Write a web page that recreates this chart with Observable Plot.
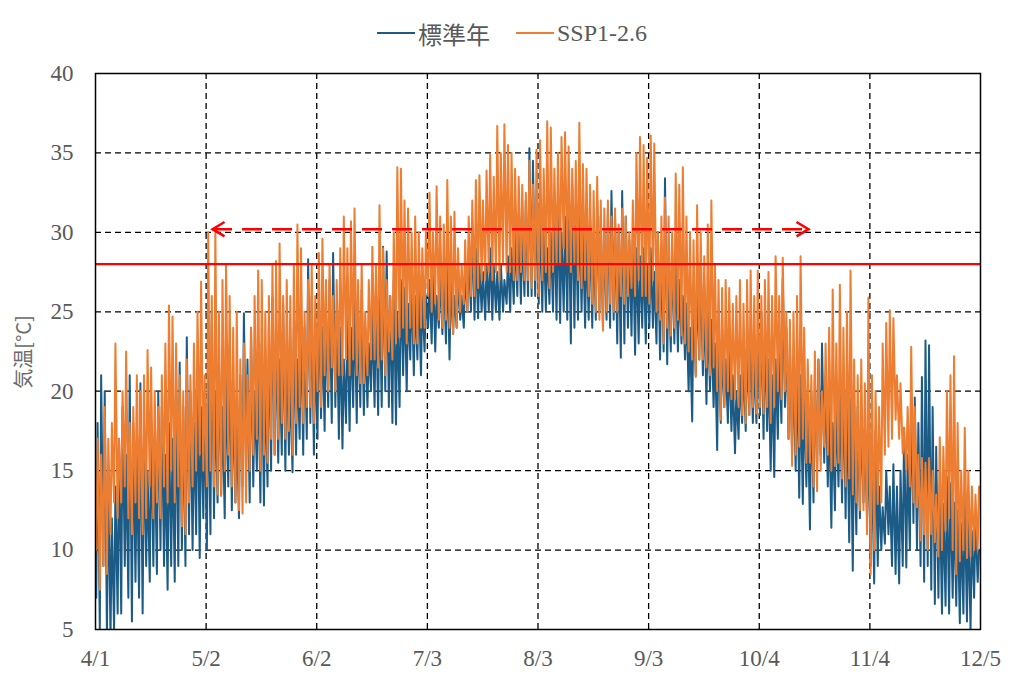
<!DOCTYPE html>
<html>
<head>
<meta charset="utf-8">
<script src="https://cdn.jsdelivr.net/npm/d3@7"></script>
<script src="https://cdn.jsdelivr.net/npm/@observablehq/plot@0.6"></script>
<style>
  body { margin: 0; background: #fff; }
  #wrap { position: relative; width: 1024px; height: 685px; background: #fff; }
  #legend { height: 55px; box-sizing: border-box; padding-top: 11px; display: flex; justify-content: center; align-items: center;
            font-family: 'Liberation Serif', 'Noto Sans CJK JP', serif; font-size: 24px; color: #595959; }
  .item { display: flex; align-items: center; }
  .item svg { margin-right: 3px; }
  #ylabel { position: absolute; left: 22px; top: 352px; transform: translate(-50%, -50%) rotate(-90deg);
            font-family: 'Noto Sans CJK JP', sans-serif; font-size: 20px; color: #6a6a6a; white-space: nowrap; }
</style>
</head>
<body>
<div id="wrap">
  <div id="legend"></div>
  <div id="chart"></div>
  <div id="ylabel"></div>
</div>
<script>
// ---------- labels ----------
const seriesNames = ["標準年", "SSP1-2.6"];
const seriesColors = ["#1b5b85", "#ed7d31"];
const yTitle = "気温[°C]";
const xTickLabels = ["4/1", "5/2", "6/2", "7/3", "8/3", "9/3", "10/4", "11/4", "12/5"];
const yTicks = [5, 10, 15, 20, 25, 30, 35, 40];
const threshold = 28;          // red solid line
const arrowLevel = 30.2;       // red dashed double arrow
const arrowSpan = [32.8, 199.8]; // days since 4/1
const minHour = 5, maxHour = 14;

// ---------- daily values (days since 4/1) ----------
const stdMax = [
  18, 21, 20, 15, 12, 14, 17, 19, 16, 21,
  18, 16, 20.5, 17, 15, 18, 17, 20, 19, 16,
  18, 17, 20, 21.8, 19, 23.4, 20, 18, 21, 19,
  19, 21, 25, 20, 22, 19, 21, 23, 20, 18,
  21, 24.9, 22, 24, 20, 22, 23, 21, 24, 25.9,
  24, 22, 25.5, 23, 21, 24, 22, 25, 24, 28.3,
  26, 23, 26, 24, 25, 27, 28.7, 25, 24, 22,
  25, 24, 26, 25, 26.4, 24, 23, 25, 26, 27,
  29.1, 28.8, 26, 27, 25, 27, 26.5, 25.5, 27, 26,
  27, 26, 26, 27, 28, 26, 27.5, 28, 28.5, 27,
  26, 27, 26, 27.5, 29, 30.3, 29, 28, 27.5, 28,
  29, 28, 27.5, 28, 27, 28.5, 29, 30, 31.2, 30,
  32, 35.3, 34.5, 32, 31, 30, 29, 30, 31, 32,
  30, 31, 32.5, 33, 31, 32, 30, 29.5, 31, 30,
  32, 31, 30, 31.5, 32.6, 31, 30, 32.6, 31, 29.5,
  30, 29, 28.5, 29, 28, 29, 27.5, 30, 29, 33.4,
  28, 29, 28.5, 27, 26, 25.5, 24, 26, 27, 28.1,
  26, 25, 24.5, 23, 24, 22.5, 22, 22.5, 21, 20,
  21, 22, 23, 24, 22, 23, 25, 24, 22, 21,
  22, 23, 27.1, 24, 23, 21.5, 22, 21, 20, 19.5,
  20, 21, 22, 23, 21, 19, 18, 19.5, 20, 21,
  20, 19.5, 18, 19, 18.5, 17, 17.5, 16, 17.5, 14,
  12.7, 15, 14, 15.4, 14, 15, 17.7, 16, 19.8, 19.6,
  18, 20.9, 23.2, 22.9, 19, 16.5, 14, 12.9, 14.6, 14.2,
  13, 12.5, 11.7, 13.5, 12, 11.2, 12, 10
];
const stdMin = [
  7, 5, 9, 4.5, 4.5, 5, 6, 6, 9, 7,
  5.5, 8, 7, 6, 9, 8, 9, 8.5, 10, 9,
  7.5, 9, 8, 9, 10, 9, 11, 10, 11, 9.5,
  12, 10, 11, 12, 13, 13.5, 12, 14, 12.5, 13,
  12, 14, 15, 13, 14, 15, 13, 12.8, 14, 15,
  16, 15.5, 16, 15, 16, 14.9, 16, 17, 16, 17,
  18, 16, 17, 18.3, 17.5, 19, 18, 19, 17, 16.4,
  18, 17.5, 19, 18, 19, 18.5, 19, 20, 19, 18.5,
  19, 20, 19, 18, 17.9, 19, 21, 20, 22, 21,
  22, 21, 22.5, 24, 23, 22.5, 24, 23.6, 23, 22,
  23.6, 24, 24.5, 24, 25, 25, 24.5, 24.6, 25, 24.5,
  25, 24.5, 25, 24.5, 25, 25.5, 25, 25.5, 26, 25.5,
  26, 26, 26, 26, 25.5, 25, 25.1, 25.5, 25, 24.5,
  24.3, 25, 24.5, 23, 24, 24.5, 25, 24, 24.5, 24,
  24.5, 25, 24, 24.5, 24, 24.5, 23, 22.1, 23, 24,
  23.5, 22.3, 23, 24, 23, 24, 24, 23, 22, 22.5,
  21.7, 22.5, 23, 22.5, 23, 22, 20, 18.1, 21, 22,
  21, 19.2, 20, 19, 16.3, 18, 19, 18, 17.5, 16.1,
  17, 18, 17.5, 18.5, 18, 18, 18.5, 17, 17.5, 15,
  14.6, 17, 18, 19, 17, 16, 15, 13.3, 12.9, 14,
  11.3, 13, 15, 16, 15.5, 14, 11.4, 12.5, 14, 13,
  12, 10.5, 8.7, 11, 12, 13, 12, 9, 7.9, 9,
  10, 10.4, 11, 9, 8.5, 7.9, 9, 8.9, 10, 11.7,
  10, 9, 8, 9, 7.5, 6.6, 7, 6, 6.5, 6,
  7, 6.5, 5.4, 6, 5.5, 5, 7, 8
];
const sspMax = [
  17, 16, 19, 17, 18, 23, 17, 20, 22.5, 18,
  19, 21, 20, 21, 22.6, 21.5, 20, 19, 21, 23,
  25.4, 24.7, 23, 21, 20, 22, 21, 23, 25, 26.9,
  21, 30, 26, 30.2, 25, 27, 28, 26, 24, 25,
  22, 23, 21, 24, 26, 27.6, 27, 25, 26, 28,
  28.2, 29.3, 26, 27, 26, 28, 30.5, 29, 25, 27,
  28, 26, 28.7, 29.6, 27, 28, 26, 27, 29, 31,
  29, 30.7, 31.5, 27, 28, 25, 27, 29.1, 28, 31.7,
  29, 27, 26, 30, 34.1, 34, 32, 31.5, 30, 31,
  30, 29, 30, 32.5, 30, 32.9, 31, 30.5, 33.3, 31,
  31.3, 29, 28, 29.5, 31, 32, 33.3, 33.6, 32, 33.9,
  34.9, 33.5, 36.7, 35, 36.8, 35.5, 35, 34, 33.5, 33,
  32.5, 34.5, 33, 35.2, 35.8, 34, 37, 36.6, 34, 35,
  36, 36.3, 35.4, 34, 34.5, 36.9, 34.3, 34, 33, 32.6,
  33.5, 32, 31.5, 32, 31, 31.5, 30.5, 31.5, 31, 30,
  32, 35, 36, 35.5, 34.7, 36.1, 35.6, 30, 31, 32.2,
  31, 30, 33.7, 33, 34.1, 31, 30, 29.5, 31.7, 30,
  28.5, 30.5, 32, 28, 27, 26.5, 27, 26.5, 25.5, 26,
  27, 25.5, 27, 27.6, 26, 27.6, 26, 27, 27.5, 26,
  28.5, 26, 28.4, 25, 24.5, 25, 26, 28.5, 24, 22,
  21, 22.5, 22, 20, 23, 24, 26.4, 23, 26.7, 24,
  25, 27.6, 22, 21, 22, 20.5, 25.9, 21, 20, 19,
  23, 24.3, 25.1, 24.6, 21, 20.5, 17.7, 19, 22.8, 19,
  16, 15.8, 15.5, 15.8, 15, 13.5, 17.1, 16.5, 20, 21,
  22.2, 18, 15, 17.7, 15, 14, 13.5, 14
];
const sspMin = [
  10, 7.5, 9, 8.5, 11, 13, 12, 13, 14, 12,
  11, 13, 12, 11, 12, 14, 12, 13, 12, 14,
  13, 15, 13, 14, 11.5, 11, 13, 14, 15, 16,
  15, 14, 15, 14, 13.5, 13.4, 15, 16, 14, 13,
  12.5, 12.3, 13, 15, 16, 17, 15, 16, 15.5, 17,
  16, 17, 18, 17, 17.5, 16, 18, 19, 18, 19,
  19, 18, 20, 19, 21, 20, 21.5, 20, 21, 21,
  22, 21, 22, 21, 20.5, 20.5, 21, 22, 22, 21.5,
  22, 21, 22.5, 22, 23, 23.4, 24, 23, 24, 23,
  23, 24, 24, 26, 25, 25.5, 24.5, 24, 24.5, 24,
  23.6, 24, 25, 25.5, 25, 26, 26, 26.5, 27, 27,
  27.5, 27, 27.5, 27, 28, 27.5, 27.5, 27, 27, 27.5,
  27, 27, 26.5, 27, 26, 27, 27.5, 26.5, 27.5, 28,
  28, 29, 28, 27.5, 28, 27, 26.5, 27, 26, 25.5,
  25, 24.5, 23.8, 25, 25.5, 25, 25, 26, 25.5, 26,
  26.5, 26, 27, 26, 26, 25.5, 27, 25, 24.5, 23,
  24, 23.5, 24, 24.5, 23.5, 23, 22.5, 22, 20.9, 22,
  22, 21.5, 21, 21.5, 20, 18.2, 19, 20, 19.5, 19.5,
  19, 18.5, 18, 18.5, 19, 18.6, 19, 18.6, 19, 18,
  19, 20, 19.5, 20, 17, 15.3, 16, 16.5, 17, 15.5,
  15.5, 14, 13.7, 15, 16.5, 16, 15, 15.3, 15.5, 14.5,
  14, 14.5, 13.5, 13, 12.5, 12.5, 11, 8.5, 10, 12.9,
  13, 16, 16.5, 17, 18.2, 17, 16.1, 15, 14, 13,
  12.7, 10.6, 11, 10, 11, 10.5, 9.6, 10, 11.2, 12,
  10, 8.5, 9.3, 10, 9.5, 9.6, 10, 10
];

// ---------- build tables ----------
const year = 2023;
const origin = new Date(year, 3, 1);
const toDay = (label) => { const [m, d] = label.split("/").map(Number); return Math.round((new Date(year, m - 1, d) - origin) / 864e5); };
const xTickPos = xTickLabels.map(toDay);
const labelByPos = new Map(xTickPos.map((p, i) => [p, xTickLabels[i]]));

function build(mins, maxs) {
  const pts = [];
  for (let d = 0; d < mins.length; d++) {
    pts.push({ t: d + minHour / 24, v: mins[d] });
    pts.push({ t: d + maxHour / 24, v: maxs[d] });
  }
  return pts;
}
const stdData = build(stdMin, stdMax);
const sspData = build(sspMin, sspMax);

const chevronLeft = { draw(ctx, size) { const r = Math.sqrt(size / Math.PI); ctx.moveTo(r * 2, -r * 1.2); ctx.lineTo(0, 0); ctx.lineTo(r * 2, r * 1.2); } };
const chevronRight = { draw(ctx, size) { const r = Math.sqrt(size / Math.PI); ctx.moveTo(-r * 2, -r * 1.2); ctx.lineTo(0, 0); ctx.lineTo(-r * 2, r * 1.2); } };

// ---------- legend ----------
const legend = document.getElementById("legend");
seriesNames.forEach((name, i) => {
  const item = document.createElement("div");
  item.className = "item";
  if (i > 0) item.style.marginLeft = "26px";
  item.innerHTML = `<svg width="38" height="10"><line x1="0" y1="5" x2="38" y2="5" stroke="${seriesColors[i]}" stroke-width="2"/></svg><span>${name}</span>`;
  legend.appendChild(item);
});
document.getElementById("ylabel").textContent = yTitle;

// ---------- chart ----------
const chart = Plot.plot({
  width: 1024,
  height: 630,
  marginTop: 18,
  marginBottom: 56,
  marginLeft: 95,
  marginRight: 44,
  style: { fontFamily: "'Liberation Serif', 'Noto Sans CJK JP', serif", fontSize: "23px", color: "#595959", background: "#fff" },
  x: { domain: [xTickPos[0], xTickPos[xTickPos.length - 1]], ticks: xTickPos, tickFormat: (d) => labelByPos.get(d), tickSize: 0, tickPadding: 20, label: null },
  y: { domain: [yTicks[0], yTicks[yTicks.length - 1]], ticks: yTicks, tickSize: 0, tickPadding: 22, label: null },
  marks: [
    Plot.ruleX(xTickPos.slice(1, -1), { stroke: "#000", strokeWidth: 1.3, strokeDasharray: "6,4" }),
    Plot.ruleY(yTicks.slice(1, -1), { stroke: "#000", strokeWidth: 1.3, strokeDasharray: "6,4" }),
    Plot.line(stdData, { x: "t", y: "v", stroke: seriesColors[0], strokeWidth: 2, clip: true }),
    Plot.line(sspData, { x: "t", y: "v", stroke: seriesColors[1], strokeWidth: 2, clip: true }),
    Plot.ruleY([threshold], { stroke: "#ff0000", strokeWidth: 2.2 }),
    Plot.ruleY([arrowLevel], { x1: arrowSpan[0], x2: arrowSpan[1], stroke: "#ff0000", strokeWidth: 2.5, strokeDasharray: "20,10" }),
    Plot.dot([{ x: arrowSpan[0], y: arrowLevel }], { x: "x", y: "y", r: 6, symbol: chevronLeft, fill: "none", stroke: "#ff0000", strokeWidth: 2.5 }),
    Plot.dot([{ x: arrowSpan[1], y: arrowLevel }], { x: "x", y: "y", r: 6, symbol: chevronRight, fill: "none", stroke: "#ff0000", strokeWidth: 2.5 }),
    Plot.frame({ stroke: "#000", strokeWidth: 1.5 })
  ]
});
document.getElementById("chart").appendChild(chart);
</script>
</body>
</html>
